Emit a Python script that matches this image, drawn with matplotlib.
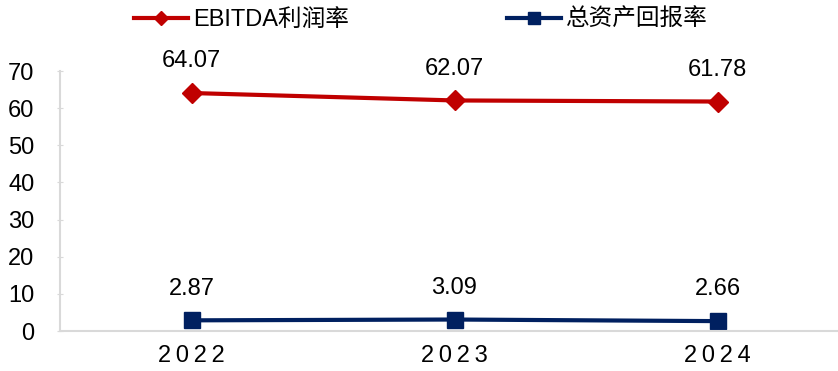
import matplotlib
matplotlib.use("Agg")
import matplotlib.pyplot as plt

years = ["2022", "2023", "2024"]
ebitda = [64.07, 62.07, 61.78]
roa = [2.87, 3.09, 2.66]
yticks = [0, 10, 20, 30, 40, 50, 60, 70]

plt.rcParams['font.family'] = ['Liberation Sans', 'Noto Sans CJK SC', 'DejaVu Sans']

W, H = 838, 371
fig = plt.figure(figsize=(W/100, H/100), dpi=100)
left, right = 60, 849
top, bottom = 71, 331
ax = fig.add_axes([left/W, 1 - bottom/H, (right-left)/W, (bottom-top)/H])

x = list(range(len(years)))
red = "#C00000"
navy = "#002060"
l1, = ax.plot(x, ebitda, color=red, lw=3, marker="D", ms=10, label="EBITDA利润率", clip_on=False)
l2, = ax.plot(x, roa, color=navy, lw=3, marker="s", ms=12, label="总资产回报率", clip_on=False)

FS = 17
for xi, v in zip(x, ebitda):
    ax.annotate(f"{v:.2f}", (xi, v), xytext=(0, 15), textcoords="offset points",
                ha="center", va="bottom", fontsize=FS, color="black")
for xi, v in zip(x, roa):
    ax.annotate(f"{v:.2f}", (xi, v), xytext=(0, 15), textcoords="offset points",
                ha="center", va="bottom", fontsize=FS, color="black")

ax.set_xlim(-0.5, 2.5)
ax.set_ylim(0, 70)
ax.set_yticks(yticks)
ax.set_yticklabels([str(t) for t in yticks], fontsize=FS)
ax.set_xticks(x)
ax.set_xticklabels(["\u2009".join(y) for y in years], fontsize=FS)
ax.tick_params(axis="x", length=0, pad=10)
ax.tick_params(axis="y", length=5, color="#d9d9d9", direction="inout", pad=16)
for s in ["top", "right"]:
    ax.spines[s].set_visible(False)
for s in ["left", "bottom"]:
    ax.spines[s].set_color("#d9d9d9")
    ax.spines[s].set_linewidth(1.5)

fig.legend(handles=[l1, l2], loc="upper left", bbox_to_anchor=(134/W, 1 - 9/H), ncol=2,
           frameon=False, fontsize=FS, handlelength=2.3, columnspacing=6.7,
           handletextpad=0.2, borderaxespad=0, borderpad=0, markerscale=0.75)

fig.savefig("out.png", dpi=100)
